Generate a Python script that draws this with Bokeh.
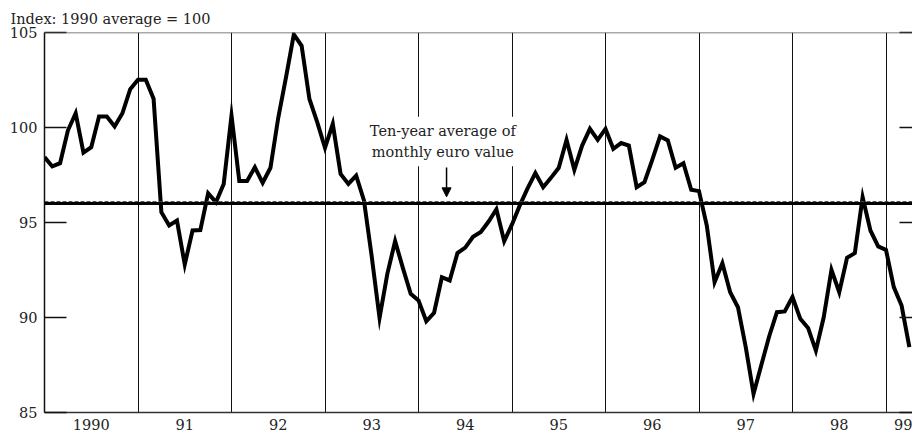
from bokeh.plotting import figure
from bokeh.models import (Range1d, FixedTicker, LinearAxis, Span, Label, Arrow,
                          NormalHead, ColumnDataSource)
from bokeh.embed import file_html
from bokeh.resources import INLINE

# ---------------- data (monthly index, 1990 average = 100) ----------------
start_year = 1990
v1990 = [98.44, 97.95, 98.12, 99.84, 100.75, 98.68, 98.96, 100.58, 100.58, 100.05, 100.75, 102.02]
v1991 = [102.51, 102.51, 101.51, 95.54, 94.84, 95.10, 92.79, 94.58, 94.60, 96.54, 96.07, 97.03]
v1992 = [100.63, 97.18, 97.18, 97.91, 97.09, 97.88, 100.51, 102.65, 104.90, 104.30, 101.50, 100.28]
v1993 = [98.93, 100.19, 97.56, 97.03, 97.47, 96.16, 93.20, 89.98, 92.30, 94.02, 92.60, 91.25]
v1994 = [90.90, 89.80, 90.25, 92.12, 91.95, 93.39, 93.68, 94.25, 94.50, 95.05, 95.70, 94.02]
v1995 = [94.90, 95.90, 96.80, 97.60, 96.86, 97.35, 97.88, 99.35, 97.77, 99.05, 99.93, 99.35]
v1996 = [99.93, 98.88, 99.18, 99.05, 96.86, 97.12, 98.30, 99.53, 99.32, 97.88, 98.12, 96.72]
v1997 = [96.65, 94.84, 91.86, 92.86, 91.33, 90.54, 88.44, 85.98, 87.50, 89.00, 90.28, 90.32]
v1998 = [91.08, 89.93, 89.45, 88.26, 90.00, 92.51, 91.33, 93.14, 93.39, 96.33, 94.58, 93.74]
v1999 = [93.56, 91.60, 90.63, 88.44]

ten_year_average = 96.0
y_ticks = [85, 90, 95, 100, 105]
year_lines = [1991, 1992, 1993, 1994, 1995, 1996, 1997, 1998, 1999]
x_tick_positions = [1990.5, 1991.5, 1992.5, 1993.5, 1994.5, 1995.5, 1996.5, 1997.5, 1998.5, 1999.24]
x_tick_labels = ["1990", "91", "92", "93", "94", "95", "96", "97", "98", "99"]
y_label = "Index: 1990 average = 100"
note_text = "Ten-year average of\nmonthly euro value"

values = v1990 + v1991 + v1992 + v1993 + v1994 + v1995 + v1996 + v1997 + v1998 + v1999
xs = [start_year + i / 12.0 for i in range(len(values))]
src = ColumnDataSource(data=dict(x=xs, y=values))

FONT = "DejaVu Serif"
FS = "14.5px"
TXT = "#222222"

p = figure(width=912, height=435, output_backend="svg", toolbar_location=None,
           x_range=Range1d(1990, 1990 + 868 / 93.5), y_range=Range1d(85, 105),
           min_border_left=44, min_border_right=0, min_border_top=32, min_border_bottom=23)
p.outline_line_color = None
p.background_fill_color = "white"
p.border_fill_color = "white"

# title: unit label at top left
p.title.text = y_label
p.title.align = "left"
p.title.offset = -34
p.title.standoff = 12
p.title.text_font = FONT
p.title.text_font_size = FS
p.title.text_font_style = "normal"
p.title.text_color = TXT

# grid: vertical year separators only
p.ygrid.visible = False
p.xgrid.ticker = FixedTicker(ticks=year_lines)
p.xgrid.grid_line_color = "#111111"
p.xgrid.grid_line_width = 1

# left axis
ya = p.yaxis[0]
ya.ticker = FixedTicker(ticks=y_ticks)
ya.major_tick_in = 22
ya.major_tick_out = 0
ya.minor_tick_line_color = None
ya.major_tick_line_width = 1.5
ya.major_tick_line_color = "#111111"
ya.axis_line_color = "#111111"
ya.axis_line_width = 1.5
ya.major_label_standoff = 7
ya.major_label_text_font = FONT
ya.major_label_text_font_size = FS
ya.major_label_text_color = TXT

# right axis: inward ticks only
ra = LinearAxis(ticker=FixedTicker(ticks=y_ticks))
ra.major_tick_in = 13
ra.major_tick_out = 0
ra.minor_tick_line_color = None
ra.major_tick_line_width = 1.5
ra.major_tick_line_color = "#111111"
ra.axis_line_color = None
ra.major_label_standoff = 0
ra.major_label_text_font_size = "0px"
ra.major_label_overrides = {t: "" for t in y_ticks}
p.add_layout(ra, "right")

# bottom axis: year labels centred in each year
xa = p.xaxis[0]
xa.ticker = FixedTicker(ticks=x_tick_positions)
xa.major_label_overrides = {pos: lab for pos, lab in zip(x_tick_positions, x_tick_labels)}
xa.major_tick_in = 0
xa.major_tick_out = 0
xa.minor_tick_line_color = None
xa.major_tick_line_color = None
xa.axis_line_color = "#333333"
xa.axis_line_width = 1.5
xa.major_label_standoff = 6
xa.major_label_text_font = FONT
xa.major_label_text_font_size = FS
xa.major_label_text_color = TXT

# top border
p.add_layout(Span(location=105, dimension="width", line_color="#555555", line_width=1.5))

# ten-year average (thick rule with a fine dashed edge above it)
p.add_layout(Span(location=ten_year_average, dimension="width", line_color="black", line_width=3))
p.add_layout(Span(location=ten_year_average + 0.1, dimension="width", line_color="#444444",
                  line_width=1, line_dash="4 2"))

# series
p.line("x", "y", source=src, line_color="black", line_width=4, line_join="miter")

# annotation
p.add_layout(Label(x=1994.26, y=99.26, text=note_text, text_align="center", text_baseline="middle",
                   text_font=FONT, text_font_size=FS, text_color=TXT, text_line_height=1.35,
                   background_fill_color="white", padding=6))
p.add_layout(Arrow(end=NormalHead(size=9, fill_color="black", line_color="black"),
                   x_start=1994.30, y_start=97.9, x_end=1994.30, y_end=96.35,
                   line_color="black", line_width=1.5))

open("out.html", "w").write(file_html(p, INLINE))
